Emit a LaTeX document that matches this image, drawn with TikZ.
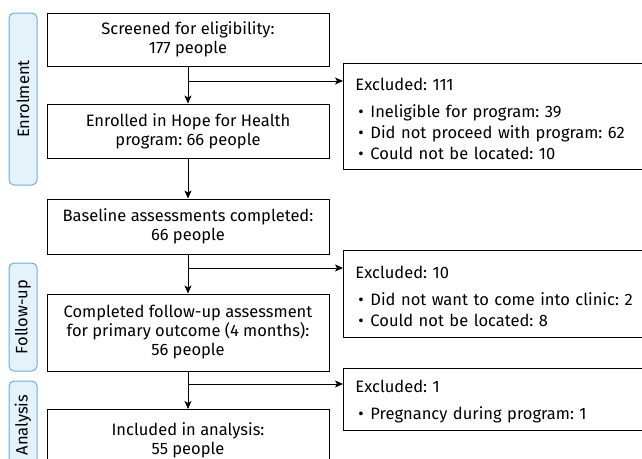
\documentclass[tikz,border=0pt]{standalone}
\usepackage{fontspec}
\setmainfont{Fira Sans}
\frenchspacing
\usetikzlibrary{arrows.meta}
\definecolor{tabfill}{HTML}{E4F2FA}
\definecolor{tabline}{HTML}{6CAEE0}
\newcommand{\blt}{\hspace*{15pt}\makebox[12pt][l]{\textbullet}}
\begin{document}
\begin{tikzpicture}
[   x=1pt,y=-1pt,
    every node/.style={font=\fontsize{16.5}{19}\selectfont},
    mainbox/.style={draw=black,line width=0.9pt,minimum width=282pt,minimum height=#1,align=center,inner sep=0pt},
    sidebox/.style={draw=black,line width=0.9pt,anchor=north west,minimum height=#1,align=left,text width=320pt,inner sep=0pt,font=\fontsize{16.5}{21}\selectfont},
    tabbox/.style={draw=tabline,fill=tabfill,line width=1pt,rounded corners=5pt,minimum width=28pt,minimum height=#1,inner sep=0pt},
    arr/.style={line width=0.9pt,-{Stealth[length=8pt,width=7pt,inset=2pt]}},
]
    \useasboundingbox (0,0) rectangle (642,458);
    \clip (0,0) rectangle (642,458);
    % stage tabs
    \node[tabbox=172pt] (t-1) at (23,99) {};
    \node[tabbox=108pt] (t-2) at (23,317) {};
    \node[tabbox=88pt] (t-3) at (23,425) {};
    \foreach \n/\txt in {1/Enrolment,2/Follow-up,3/Analysis}
    {   \node[rotate=90] at (t-\n) {\txt};
    }
    % main flow
    \node[mainbox=53pt] (b-1) at (188,39.5) {Screened for eligibility:\\177 people};
    \node[mainbox=54pt] (b-2) at (188,131) {Enrolled in Hope for Health\\program: 66 people};
    \node[mainbox=55pt] (b-3) at (188,226.5) {Baseline assessments completed:\\66 people};
    \node[mainbox=77pt] (b-4) at (188,332.5) {Completed follow-up assessment\\for primary outcome (4 months):\\56 people};
    \node[mainbox=55pt,anchor=north] (b-5) at (188,409) {\rule{0pt}{19pt}Included in analysis:\\55 people};
    \foreach \a/\b in {1/2,2/3,3/4,4/5}
    {   \draw[arr] (b-\a.south) -- (b-\b.north);
    }
    % exclusions
    \node[sidebox=106pt] (x-1) at (343,63) {\rule{0pt}{18pt}\hspace*{12pt}Excluded: 111\\[6pt]
        \blt Ineligible for program: 39\\
        \blt Did not proceed with program: 62\\
        \blt Could not be located: 10};
    \node[sidebox=87pt] (x-2) at (343,250) {\rule{0pt}{17pt}\hspace*{12pt}Excluded: 10\\[6pt]
        \blt Did not want to come into clinic: 2\\
        \blt Could not be located: 8};
    \node[sidebox=62pt] (x-3) at (343,368) {\rule{0pt}{16pt}\hspace*{12pt}Excluded: 1\\[6pt]
        \blt Pregnancy during program: 1};
    \coordinate (j-1) at (188,81);
    \coordinate (j-2) at (188,268);
    \coordinate (j-3) at (188,384);
    \foreach \n in {1,2,3}
    {   \draw[arr] (j-\n) -- (j-\n -| x-\n.west);
    }
\end{tikzpicture}
\end{document}
